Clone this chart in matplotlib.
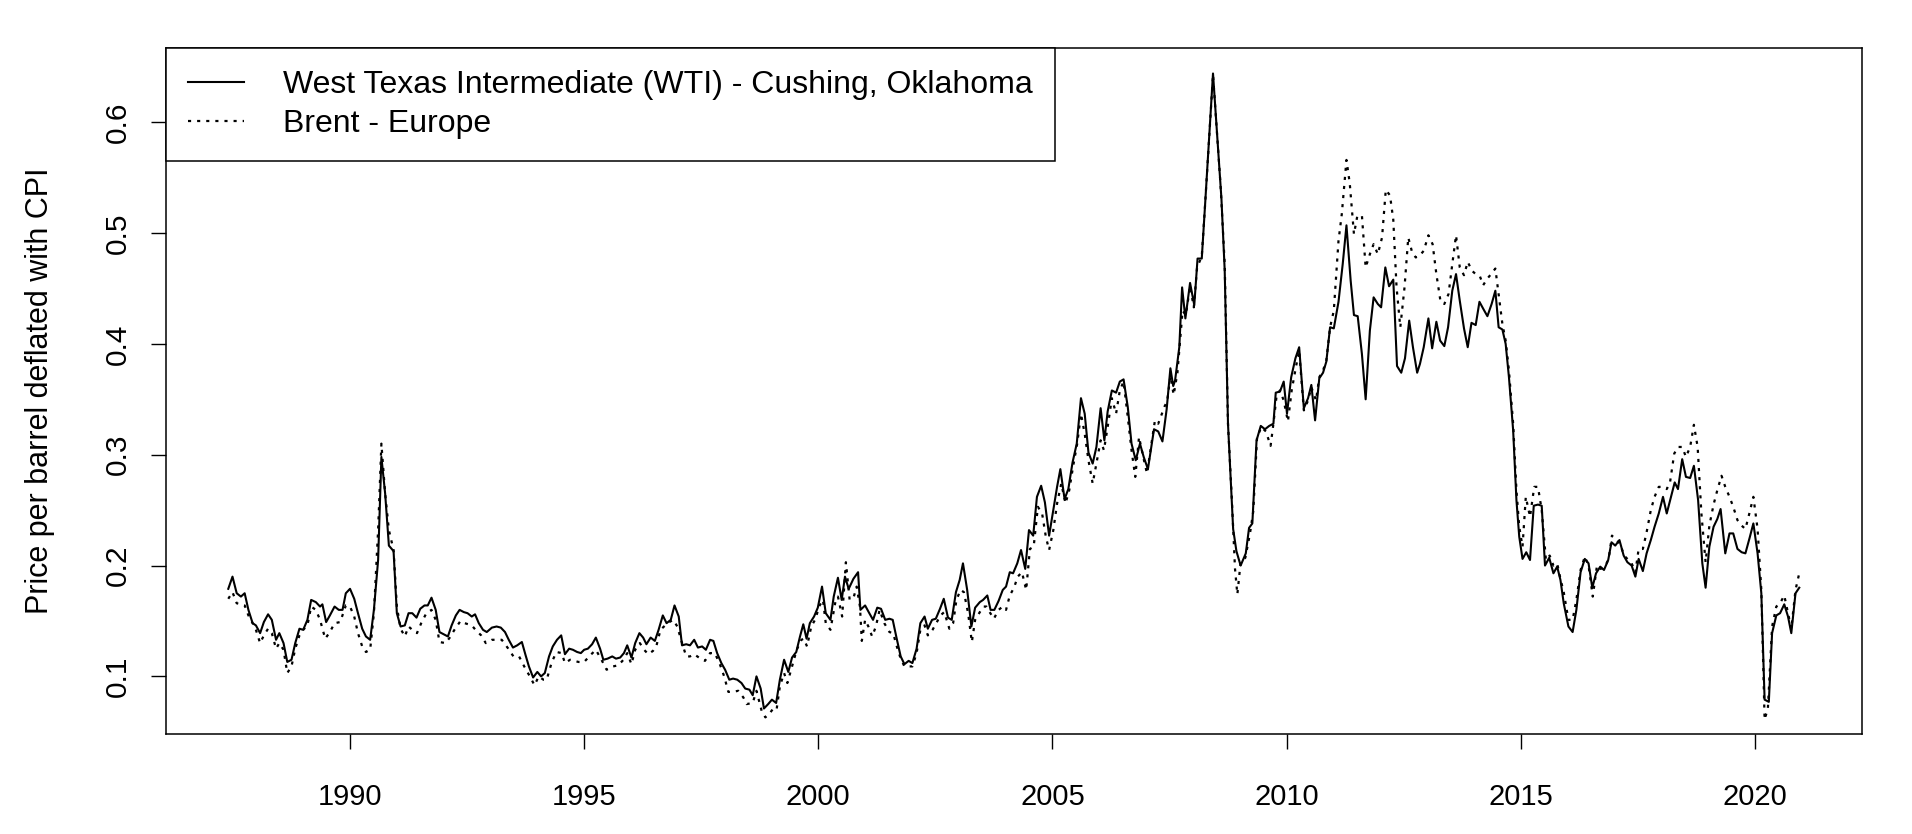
import matplotlib
matplotlib.use("Agg")
import matplotlib.pyplot as plt

# ---- data (monthly-ish vertices) --------------------------------------------------------------
wti_t = [
    1987.40, 1987.49, 1987.58, 1987.67, 1987.75, 1987.83, 1987.92, 1987.99, 1988.08, 1988.16,
    1988.25, 1988.33, 1988.42, 1988.49, 1988.58, 1988.66, 1988.75, 1988.83, 1988.92, 1989.00,
    1989.09, 1989.17, 1989.27, 1989.36, 1989.41, 1989.49, 1989.57, 1989.67, 1989.76, 1989.84,
    1989.91, 1990.00, 1990.09, 1990.17, 1990.26, 1990.34, 1990.43, 1990.51, 1990.60, 1990.67,
    1990.75, 1990.83, 1990.93, 1991.00, 1991.08, 1991.17, 1991.25,
    1991.33, 1991.42, 1991.50, 1991.59, 1991.66, 1991.74, 1991.83, 1991.91, 1992.00, 1992.09,
    1992.17, 1992.26, 1992.34, 1992.43, 1992.51, 1992.60, 1992.67, 1992.75, 1992.84, 1992.92,
    1993.03, 1993.13, 1993.22, 1993.31, 1993.39, 1993.48, 1993.57, 1993.67, 1993.75, 1993.82,
    1993.91, 1994.00, 1994.08, 1994.16, 1994.25, 1994.33, 1994.42, 1994.51, 1994.59, 1994.68,
    1994.76, 1994.85, 1994.93,
    1995.00, 1995.08, 1995.17, 1995.25, 1995.34, 1995.41, 1995.50, 1995.60, 1995.68, 1995.77,
    1995.85, 1995.92, 1996.01, 1996.09, 1996.18, 1996.26, 1996.33, 1996.42, 1996.51, 1996.59,
    1996.68, 1996.76, 1996.85, 1996.93, 1997.02, 1997.09, 1997.18, 1997.26, 1997.35, 1997.43,
    1997.52, 1997.60, 1997.69, 1997.76, 1997.84, 1997.93, 1998.01, 1998.10, 1998.18, 1998.27,
    1998.36, 1998.44, 1998.53, 1998.60, 1998.68, 1998.77, 1998.84, 1998.93, 1999.01, 1999.10,
    1999.18, 1999.27, 1999.36, 1999.44, 1999.53,
    1999.61, 1999.68, 1999.75, 1999.82, 1999.91, 1999.99, 2000.08, 2000.16, 2000.26, 2000.33,
    2000.42, 2000.50, 2000.57, 2000.65, 2000.75, 2000.85, 2000.90, 2001.00, 2001.09, 2001.17,
    2001.26, 2001.34, 2001.43, 2001.52, 2001.59, 2001.67, 2001.76, 2001.84, 2001.93, 2002.01,
    2002.10, 2002.18, 2002.27, 2002.34, 2002.43, 2002.51, 2002.60, 2002.68, 2002.77, 2002.85,
    2002.94, 2003.02, 2003.09, 2003.18, 2003.27, 2003.35,
    2003.45, 2003.52, 2003.61, 2003.68, 2003.76, 2003.85, 2003.94, 2004.01, 2004.09, 2004.16,
    2004.25, 2004.33, 2004.42, 2004.50, 2004.59, 2004.67, 2004.76, 2004.84, 2004.93, 2005.02,
    2005.10, 2005.17, 2005.26, 2005.34, 2005.43, 2005.52, 2005.61, 2005.69, 2005.77, 2005.86,
    2005.94, 2006.03, 2006.11, 2006.18, 2006.27, 2006.36, 2006.44, 2006.52, 2006.61, 2006.69,
    2006.78, 2006.87, 2006.95, 2007.04,
    2007.17, 2007.26, 2007.35, 2007.44, 2007.52, 2007.58, 2007.62, 2007.71, 2007.77, 2007.84,
    2007.94, 2008.03, 2008.10, 2008.19, 2008.26, 2008.43, 2008.61, 2008.68, 2008.75, 2008.86,
    2008.93, 2009.02, 2009.13, 2009.20, 2009.27, 2009.36, 2009.45, 2009.54, 2009.63, 2009.72,
    2009.77,
    2009.86, 2009.94, 2010.01, 2010.10, 2010.19, 2010.27, 2010.37, 2010.46, 2010.53, 2010.61,
    2010.70, 2010.78, 2010.85, 2010.93, 2011.01, 2011.11, 2011.20, 2011.28, 2011.37, 2011.44,
    2011.52, 2011.61, 2011.69, 2011.78, 2011.86, 2011.95, 2012.02, 2012.11, 2012.19, 2012.28,
    2012.36, 2012.45, 2012.53, 2012.62, 2012.70, 2012.79,
    2012.85, 2012.93, 2013.03, 2013.11, 2013.20, 2013.28, 2013.37, 2013.45, 2013.54, 2013.62,
    2013.70, 2013.79, 2013.87, 2013.95, 2014.04, 2014.12, 2014.21, 2014.29, 2014.38, 2014.46,
    2014.53, 2014.61, 2014.68, 2014.75, 2014.84, 2014.91, 2014.97, 2015.04, 2015.12, 2015.20,
    2015.28, 2015.37, 2015.45,
    2015.52, 2015.61, 2015.70, 2015.78, 2015.85, 2015.92, 2016.02, 2016.11, 2016.19, 2016.28,
    2016.37, 2016.45, 2016.53, 2016.61, 2016.70, 2016.78, 2016.87, 2016.94, 2017.02, 2017.11,
    2017.20, 2017.28, 2017.37, 2017.45, 2017.52, 2017.61, 2017.69, 2017.78, 2017.86, 2017.95,
    2018.04, 2018.12, 2018.21, 2018.29, 2018.36, 2018.45, 2018.53, 2018.62, 2018.70, 2018.79,
    2018.88, 2018.95, 2019.03, 2019.12, 2019.20, 2019.27, 2019.37, 2019.46, 2019.54, 2019.63,
    2019.72, 2019.80, 2019.89, 2019.97, 2020.06, 2020.14, 2020.21, 2020.30, 2020.37, 2020.46,
    2020.54, 2020.63, 2020.71, 2020.78, 2020.87, 2020.95,
]
wti_v = [
    0.179, 0.190, 0.175, 0.172, 0.175, 0.160, 0.148, 0.146, 0.139, 0.149,
    0.156, 0.151, 0.133, 0.139, 0.130, 0.113, 0.115, 0.130, 0.143, 0.142,
    0.151, 0.169, 0.167, 0.163, 0.165, 0.149, 0.155, 0.163, 0.160, 0.160,
    0.175, 0.179, 0.170, 0.157, 0.143, 0.136, 0.133, 0.160, 0.205, 0.298,
    0.265, 0.218, 0.213, 0.157, 0.145, 0.146, 0.157,
    0.157, 0.153, 0.161, 0.164, 0.164, 0.171, 0.160, 0.140, 0.138, 0.136,
    0.146, 0.155, 0.160, 0.158, 0.157, 0.154, 0.156, 0.148, 0.142, 0.140,
    0.144, 0.145, 0.144, 0.140, 0.133, 0.126, 0.128, 0.131, 0.119, 0.109,
    0.099, 0.104, 0.100, 0.103, 0.118, 0.127, 0.133, 0.137, 0.120, 0.125,
    0.124, 0.122, 0.121,
    0.124, 0.125, 0.129, 0.135, 0.125, 0.115, 0.116, 0.118, 0.116, 0.117,
    0.121, 0.128, 0.117, 0.130, 0.139, 0.135, 0.129, 0.135, 0.132, 0.142,
    0.155, 0.148, 0.151, 0.164, 0.154, 0.128, 0.129, 0.128, 0.133, 0.126,
    0.127, 0.124, 0.133, 0.132, 0.121, 0.112, 0.106, 0.097, 0.098, 0.097,
    0.094, 0.089, 0.088, 0.083, 0.100, 0.089, 0.071, 0.075, 0.079, 0.076,
    0.097, 0.115, 0.104, 0.117, 0.122,
    0.136, 0.147, 0.134, 0.148, 0.154, 0.162, 0.181, 0.157, 0.151, 0.172,
    0.189, 0.169, 0.190, 0.179, 0.188, 0.194, 0.160, 0.164, 0.157, 0.151,
    0.162, 0.161, 0.151, 0.152, 0.151, 0.135, 0.118, 0.111, 0.114, 0.112,
    0.125, 0.148, 0.154, 0.143, 0.151, 0.152, 0.161, 0.170, 0.153, 0.151,
    0.176, 0.187, 0.202, 0.178, 0.145, 0.162,
    0.167, 0.169, 0.173, 0.160, 0.160, 0.168, 0.178, 0.181, 0.194, 0.193,
    0.202, 0.214, 0.197, 0.232, 0.227, 0.262, 0.272, 0.257, 0.227, 0.250,
    0.271, 0.287, 0.260, 0.269, 0.293, 0.310, 0.351, 0.337, 0.302, 0.292,
    0.307, 0.342, 0.313, 0.339, 0.358, 0.356, 0.366, 0.368, 0.343, 0.310,
    0.295, 0.310, 0.298, 0.287,
    0.323, 0.321, 0.312, 0.341, 0.378, 0.362, 0.367, 0.397, 0.451, 0.423,
    0.455, 0.435, 0.477, 0.477, 0.525, 0.644, 0.531, 0.466, 0.328, 0.233,
    0.213, 0.200, 0.211, 0.234, 0.238, 0.313, 0.326, 0.323, 0.326, 0.328,
    0.356,
    0.357, 0.366, 0.337, 0.370, 0.387, 0.397, 0.342, 0.351, 0.363, 0.331,
    0.369, 0.374, 0.384, 0.415, 0.414, 0.438, 0.472, 0.507, 0.457, 0.426,
    0.425, 0.391, 0.350, 0.412, 0.442, 0.436, 0.433, 0.469, 0.452, 0.458,
    0.380, 0.374, 0.387, 0.421, 0.397, 0.374,
    0.382, 0.397, 0.423, 0.396, 0.420, 0.403, 0.398, 0.415, 0.448, 0.463,
    0.439, 0.414, 0.397, 0.419, 0.417, 0.438, 0.431, 0.425, 0.436, 0.448,
    0.415, 0.413, 0.400, 0.370, 0.322, 0.259, 0.226, 0.206, 0.212, 0.205,
    0.254, 0.255, 0.254,
    0.200, 0.207, 0.193, 0.199, 0.187, 0.166, 0.145, 0.140, 0.160, 0.194,
    0.206, 0.202, 0.180, 0.193, 0.199, 0.196, 0.205, 0.221, 0.218, 0.223,
    0.209, 0.203, 0.200, 0.190, 0.206, 0.195, 0.211, 0.223, 0.235, 0.247,
    0.262, 0.247, 0.262, 0.275, 0.269, 0.296, 0.280, 0.279, 0.290, 0.259,
    0.202, 0.180, 0.217, 0.235, 0.242, 0.251, 0.211, 0.229, 0.229, 0.215,
    0.212, 0.211, 0.225, 0.238, 0.211, 0.175, 0.079, 0.077, 0.139, 0.155,
    0.157, 0.165, 0.154, 0.139, 0.175, 0.180,
]

brent_t = [
    1987.40, 1987.49, 1987.58, 1987.67, 1987.75, 1987.83, 1987.92, 1987.99, 1988.08, 1988.16,
    1988.25, 1988.33, 1988.42, 1988.49, 1988.58, 1988.66, 1988.75, 1988.83, 1988.92, 1989.00,
    1989.09, 1989.17, 1989.27, 1989.36, 1989.47, 1989.57, 1989.67, 1989.79, 1989.91, 1990.00,
    1990.09, 1990.17, 1990.26, 1990.34, 1990.43, 1990.51, 1990.60, 1990.67, 1990.75, 1990.83,
    1990.93, 1991.00, 1991.08, 1991.17, 1991.25,
    1991.33, 1991.43, 1991.52, 1991.63, 1991.74, 1991.83, 1991.91, 1992.04, 1992.13, 1992.23,
    1992.36, 1992.45, 1992.60, 1992.68, 1992.80, 1992.90, 1993.03, 1993.24, 1993.38, 1993.49,
    1993.61, 1993.72, 1993.84, 1993.94, 1994.03, 1994.13, 1994.20, 1994.31, 1994.41, 1994.52,
    1994.59, 1994.70, 1994.88,
    1995.00, 1995.13, 1995.25, 1995.37, 1995.48, 1995.62, 1995.73, 1995.84, 1995.92, 1996.01,
    1996.09, 1996.19, 1996.28, 1996.37, 1996.47, 1996.54, 1996.63, 1996.73, 1996.82, 1996.90,
    1996.99, 1997.07, 1997.18, 1997.26, 1997.35, 1997.45, 1997.58, 1997.69, 1997.79, 1997.89,
    1997.99, 1998.08, 1998.18, 1998.29, 1998.40, 1998.47, 1998.60, 1998.68, 1998.79, 1998.87,
    1998.95, 1999.04, 1999.11, 1999.18, 1999.27, 1999.34, 1999.44, 1999.54,
    1999.64, 1999.69, 1999.76, 1999.85, 1999.93, 2000.03, 2000.10, 2000.16, 2000.26, 2000.36,
    2000.42, 2000.51, 2000.59, 2000.67, 2000.76, 2000.82, 2000.89, 2000.93, 2001.00, 2001.07,
    2001.15, 2001.23, 2001.31, 2001.41, 2001.52, 2001.60, 2001.67, 2001.76, 2001.84, 2001.94,
    2002.01, 2002.10, 2002.18, 2002.27, 2002.34, 2002.44, 2002.52, 2002.61, 2002.69, 2002.80,
    2002.88, 2002.95, 2003.04, 2003.11, 2003.20, 2003.28, 2003.35,
    2003.45, 2003.53, 2003.59, 2003.66, 2003.75, 2003.85, 2003.94, 2004.01, 2004.09, 2004.18,
    2004.26, 2004.35, 2004.44, 2004.52, 2004.60, 2004.69, 2004.78, 2004.86, 2004.93, 2005.02,
    2005.10, 2005.19, 2005.28, 2005.36, 2005.44, 2005.53, 2005.61, 2005.69, 2005.77, 2005.86,
    2005.94, 2006.03, 2006.10, 2006.18, 2006.27, 2006.36, 2006.44, 2006.52, 2006.61, 2006.69,
    2006.77, 2006.85, 2006.94, 2007.02,
    2007.19, 2007.26, 2007.40, 2007.45, 2007.52, 2007.59, 2007.67, 2007.72, 2007.78, 2007.85,
    2007.94, 2008.02, 2008.09, 2008.19, 2008.26, 2008.43, 2008.59, 2008.68, 2008.75, 2008.83,
    2008.90, 2008.95, 2009.02, 2009.12, 2009.22, 2009.29, 2009.37, 2009.46, 2009.56, 2009.66,
    2009.72, 2009.79,
    2009.86, 2009.94, 2010.03, 2010.11, 2010.20, 2010.27, 2010.37, 2010.46, 2010.53, 2010.63,
    2010.70, 2010.78, 2010.85, 2010.93, 2011.01, 2011.11, 2011.18, 2011.28, 2011.35, 2011.44,
    2011.51, 2011.61, 2011.69, 2011.78, 2011.86, 2011.95, 2012.04, 2012.12, 2012.21, 2012.28,
    2012.35, 2012.43, 2012.52, 2012.60, 2012.68, 2012.76,
    2012.85, 2012.93, 2013.03, 2013.12, 2013.20, 2013.29, 2013.37, 2013.46, 2013.54, 2013.62,
    2013.70, 2013.79, 2013.87, 2013.96, 2014.04, 2014.13, 2014.20, 2014.29, 2014.37, 2014.46,
    2014.53, 2014.61, 2014.68, 2014.75, 2014.84, 2014.91, 2014.97, 2015.04, 2015.11, 2015.20,
    2015.29, 2015.37, 2015.45, 2015.54, 2015.62,
    2015.70, 2015.78, 2015.85, 2015.92, 2016.02, 2016.11, 2016.19, 2016.28,
    2016.37, 2016.45, 2016.54, 2016.63, 2016.71, 2016.80, 2016.88, 2016.95, 2017.04, 2017.12,
    2017.21, 2017.30, 2017.37, 2017.45, 2017.52, 2017.61, 2017.69, 2017.78, 2017.86, 2017.95,
    2018.04, 2018.12, 2018.19, 2018.28, 2018.36, 2018.45, 2018.53, 2018.62, 2018.70, 2018.78,
    2018.86, 2018.95, 2019.03, 2019.12, 2019.20, 2019.29, 2019.37, 2019.46, 2019.54, 2019.63,
    2019.72, 2019.80, 2019.89, 2019.97, 2020.06, 2020.14, 2020.21, 2020.28, 2020.37, 2020.46,
    2020.54, 2020.63, 2020.71, 2020.78, 2020.87, 2020.95,
]
brent_v = [
    0.170, 0.176, 0.166, 0.165, 0.164, 0.155, 0.148, 0.142, 0.130, 0.137,
    0.143, 0.139, 0.125, 0.130, 0.124, 0.103, 0.109, 0.125, 0.137, 0.142,
    0.146, 0.163, 0.160, 0.151, 0.134, 0.140, 0.148, 0.149, 0.164, 0.163,
    0.154, 0.139, 0.127, 0.122, 0.124, 0.157, 0.232, 0.310, 0.265, 0.232,
    0.214, 0.163, 0.143, 0.136, 0.145,
    0.142, 0.139, 0.148, 0.157, 0.160, 0.151, 0.131, 0.130, 0.135, 0.142,
    0.150, 0.148, 0.146, 0.142, 0.137, 0.130, 0.133, 0.133, 0.125, 0.118,
    0.118, 0.109, 0.100, 0.092, 0.100, 0.097, 0.097, 0.113, 0.122, 0.121,
    0.112, 0.115, 0.113,
    0.113, 0.119, 0.124, 0.115, 0.106, 0.109, 0.110, 0.115, 0.121, 0.111,
    0.124, 0.130, 0.124, 0.120, 0.123, 0.127, 0.142, 0.146, 0.149, 0.151,
    0.145, 0.133, 0.118, 0.118, 0.120, 0.117, 0.114, 0.121, 0.121, 0.112,
    0.100, 0.086, 0.086, 0.087, 0.081, 0.075, 0.076, 0.087, 0.069, 0.063,
    0.066, 0.071, 0.070, 0.091, 0.103, 0.094, 0.109, 0.124,
    0.133, 0.134, 0.127, 0.145, 0.151, 0.164, 0.169, 0.148, 0.142, 0.166,
    0.172, 0.154, 0.203, 0.169, 0.172, 0.181, 0.163, 0.132, 0.151, 0.145,
    0.136, 0.145, 0.160, 0.148, 0.140, 0.139, 0.128, 0.116, 0.109, 0.109,
    0.109, 0.121, 0.142, 0.146, 0.137, 0.142, 0.148, 0.155, 0.158, 0.143,
    0.148, 0.169, 0.178, 0.176, 0.157, 0.131, 0.151,
    0.158, 0.163, 0.163, 0.158, 0.152, 0.160, 0.163, 0.160, 0.173, 0.180,
    0.190, 0.194, 0.178, 0.215, 0.217, 0.253, 0.247, 0.226, 0.214, 0.232,
    0.256, 0.274, 0.256, 0.268, 0.289, 0.310, 0.337, 0.319, 0.295, 0.274,
    0.292, 0.313, 0.304, 0.325, 0.351, 0.337, 0.358, 0.366, 0.334, 0.304,
    0.280, 0.316, 0.298, 0.283,
    0.331, 0.328, 0.344, 0.348, 0.371, 0.354, 0.374, 0.400, 0.430, 0.426,
    0.452, 0.433, 0.469, 0.479, 0.525, 0.643, 0.544, 0.472, 0.328, 0.262,
    0.197, 0.174, 0.203, 0.207, 0.229, 0.249, 0.315, 0.325, 0.321, 0.308,
    0.328, 0.354,
    0.358, 0.349, 0.330, 0.358, 0.379, 0.394, 0.340, 0.349, 0.361, 0.349,
    0.370, 0.376, 0.385, 0.415, 0.430, 0.493, 0.517, 0.566, 0.545, 0.499,
    0.515, 0.516, 0.469, 0.481, 0.490, 0.481, 0.496, 0.539, 0.534, 0.512,
    0.451, 0.415, 0.451, 0.496, 0.483, 0.478,
    0.480, 0.484, 0.498, 0.490, 0.463, 0.438, 0.436, 0.445, 0.472, 0.498,
    0.469, 0.462, 0.474, 0.466, 0.463, 0.461, 0.453, 0.459, 0.463, 0.468,
    0.445, 0.418, 0.403, 0.376, 0.328, 0.268, 0.235, 0.217, 0.262, 0.244,
    0.271, 0.271, 0.250, 0.205, 0.209,
    0.200, 0.202, 0.188, 0.176, 0.151, 0.151, 0.169, 0.196,
    0.208, 0.200, 0.172, 0.200, 0.197, 0.199, 0.206, 0.227, 0.223, 0.220,
    0.209, 0.205, 0.202, 0.194, 0.215, 0.215, 0.230, 0.250, 0.262, 0.271,
    0.271, 0.269, 0.275, 0.301, 0.307, 0.307, 0.298, 0.307, 0.327, 0.307,
    0.247, 0.203, 0.236, 0.255, 0.268, 0.281, 0.271, 0.262, 0.253, 0.241,
    0.236, 0.233, 0.248, 0.262, 0.233, 0.178, 0.061, 0.071, 0.145, 0.163,
    0.166, 0.173, 0.157, 0.143, 0.178, 0.193,
]

x_ticks = [1990, 1995, 2000, 2005, 2010, 2015, 2020]
y_ticks = [0.1, 0.2, 0.3, 0.4, 0.5, 0.6]
y_tick_labels = ["0.1", "0.2", "0.3", "0.4", "0.5", "0.6"]
labels = ["West Texas Intermediate (WTI) - Cushing, Oklahoma", "Brent - Europe"]

# ---- figure (base-R look) ---------------------------------------------------------------------
plt.rcParams["font.family"] = ["Liberation Sans", "DejaVu Sans"]

fig = plt.figure(figsize=(19.12, 8.34), dpi=100)
ax = fig.add_axes([166 / 1912, 100 / 834, 1696 / 1912, 686 / 834])

ax.plot(wti_t, wti_v, color="black", lw=1.5, label=labels[0])
ax.plot(brent_t, brent_v, color="black", lw=1.6, ls=(0, (1.4, 2.7)), label=labels[1])

ax.set_xlim(1986.07, 2022.29)
ax.set_ylim(0.048, 0.667)
ax.set_xticks(x_ticks)
ax.set_xticklabels([str(t) for t in x_ticks], fontsize=21)
ax.set_yticks(y_ticks)
ax.set_yticklabels(y_tick_labels, fontsize=21.5, rotation=90, va="center")
ax.tick_params(direction="out", length=10.5, width=1.0, color="black")
ax.tick_params(axis="x", pad=24.5)
ax.tick_params(axis="y", pad=14)
for s in ax.spines.values():
    s.set_linewidth(1.1)
ax.set_ylabel("Price per barrel deflated with CPI", fontsize=22, labelpad=35)

leg = ax.legend(loc="upper left", bbox_to_anchor=(0, 1), borderaxespad=0, fontsize=23,
                frameon=True, fancybox=False, edgecolor="black", framealpha=1,
                handlelength=1.75, handletextpad=1.2, borderpad=0.7, labelspacing=0.27)
leg.get_frame().set_linewidth(1.1)

fig.savefig("out.png", dpi=100)
